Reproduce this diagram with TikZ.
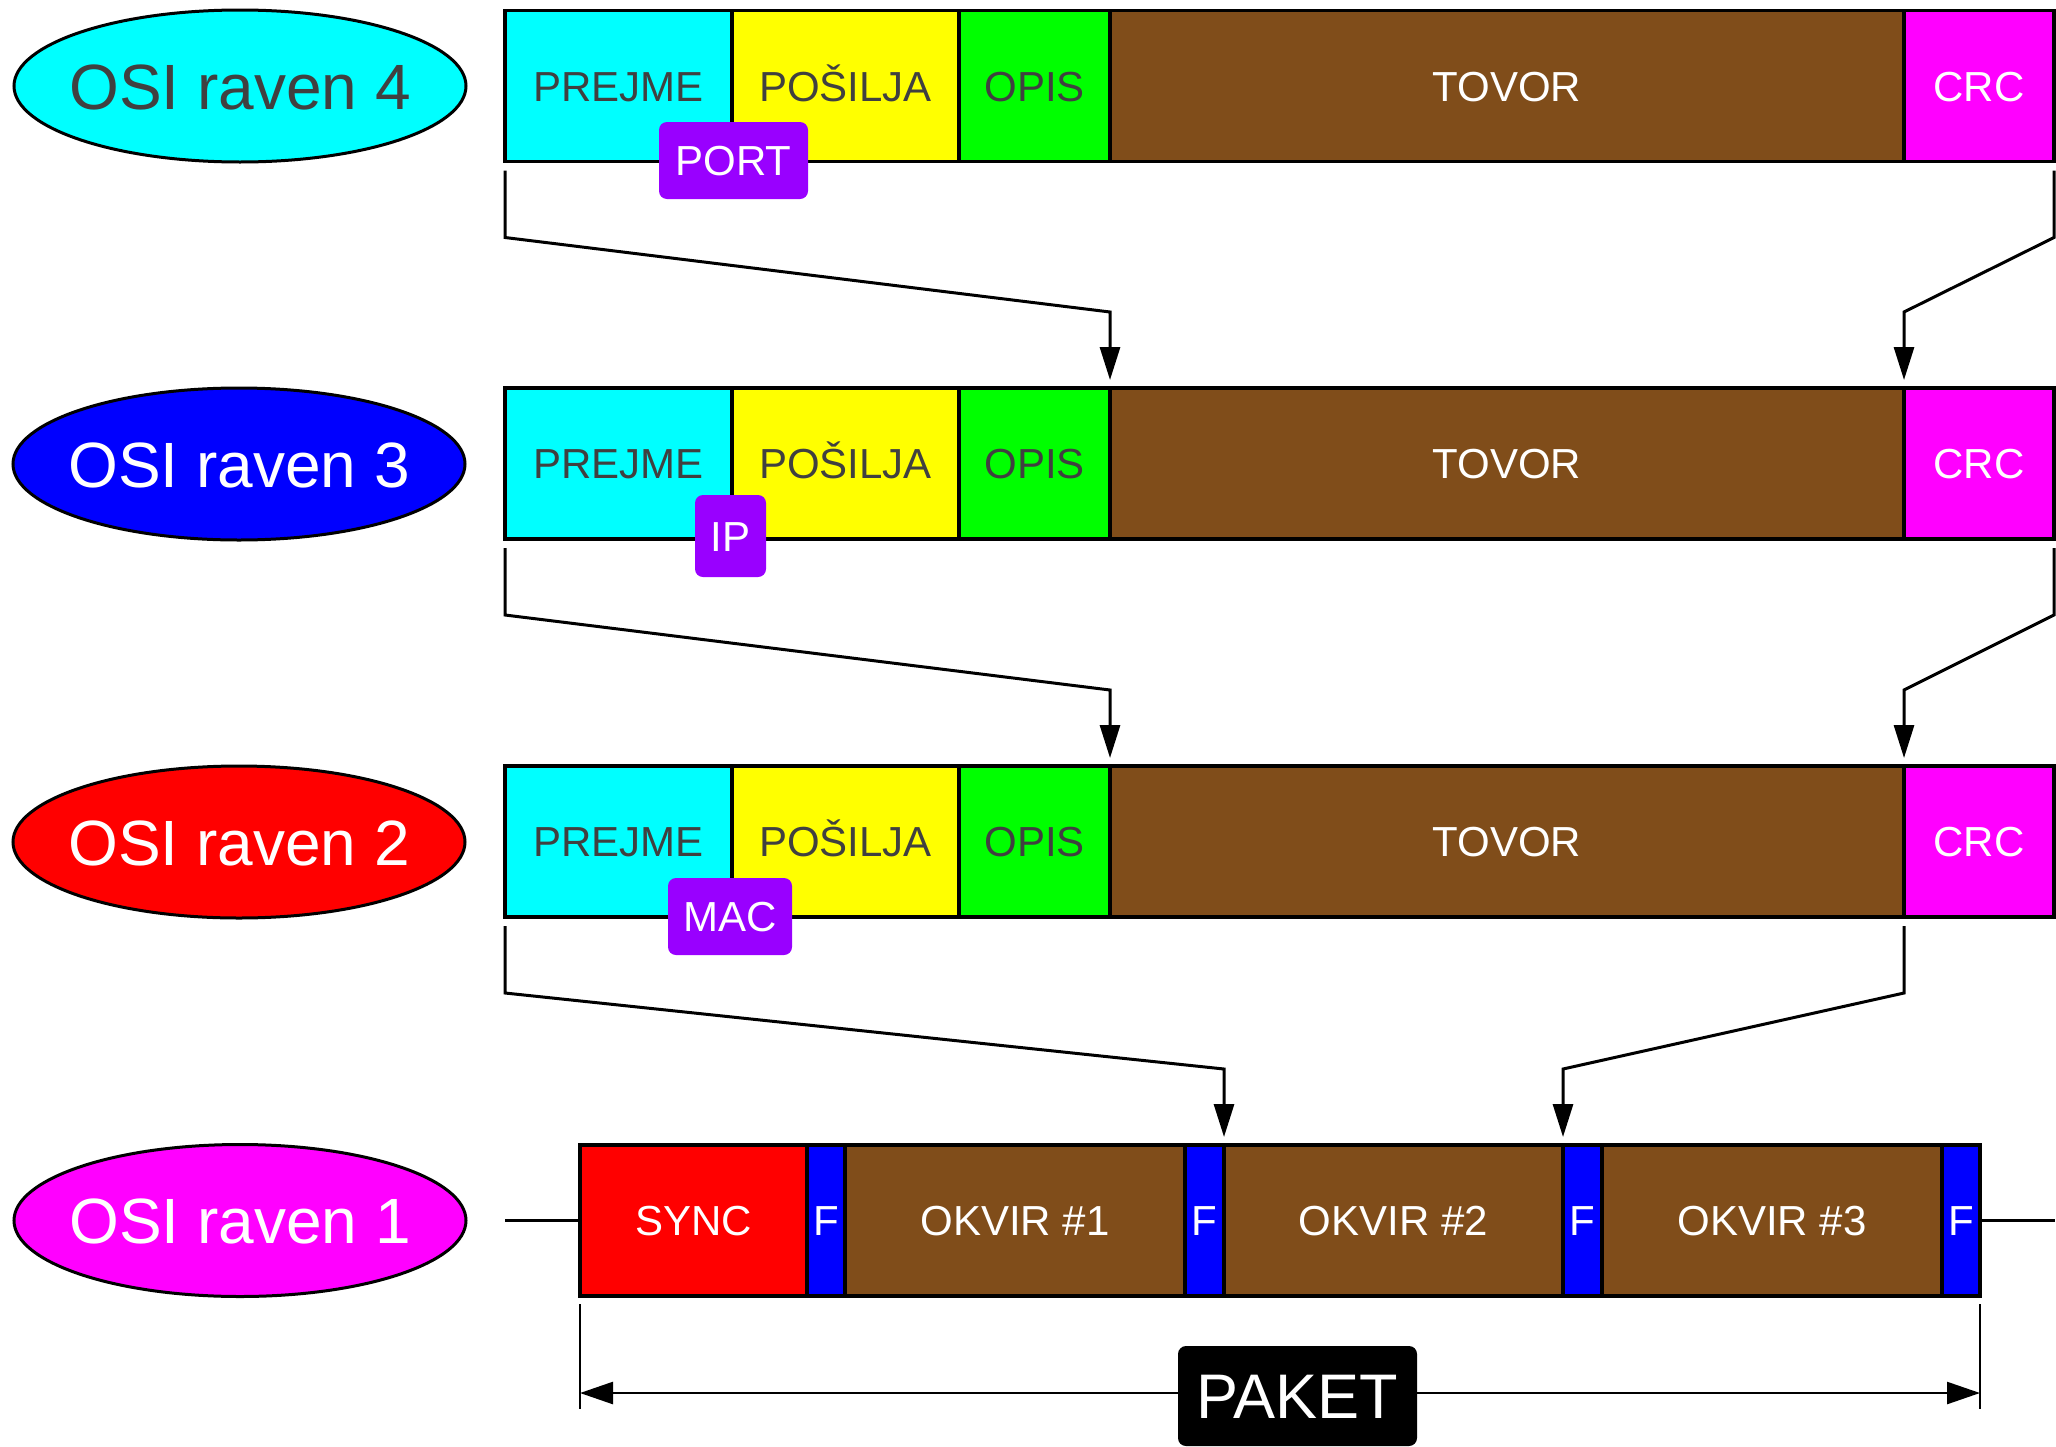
\documentclass[tikz,border=0pt]{standalone}
\usepackage{fontspec}
\setmainfont{Liberation Sans}
\usetikzlibrary{arrows.meta,shapes.geometric}
\definecolor{brn}{RGB}{128,77,26}
\definecolor{purp}{RGB}{153,0,255}
\definecolor{dgray}{RGB}{64,64,64}
\definecolor{cyanc}{RGB}{0,255,255}
\definecolor{yelc}{RGB}{255,255,0}
\definecolor{grnc}{RGB}{0,255,0}
\definecolor{magc}{RGB}{255,0,255}
\definecolor{redc}{RGB}{255,0,0}
\definecolor{bluc}{RGB}{0,0,255}
\begin{document}
\begin{tikzpicture}[x=1pt,y=-1pt,
  cell/.style={draw,line width=3.5pt,inner sep=0pt,outer sep=0pt,minimum height=151pt,text height=30pt,text depth=0pt,font=\fontsize{42}{42}\selectfont},
  lite/.style={cell,text=dgray},
  dark/.style={cell,text=white},
  tag/.style={fill=purp,text=white,rounded corners=8pt,inner sep=0pt,text height=30pt,text depth=0pt,font=\fontsize{42}{42}\selectfont},
  osi/.style={ellipse,draw,line width=3pt,inner sep=0pt,minimum width=452pt,minimum height=152pt,text height=46pt,text depth=0pt,font=\fontsize{64}{64}\selectfont},
  conn/.style={line width=3pt,-{Triangle[length=33pt,width=20pt]}},
  dimarrow/.style={line width=2.5pt,-{Triangle[length=33pt,width=22pt]}},
  dimtick/.style={line width=2.5pt},
  endline/.style={line width=3pt}]
\useasboundingbox (0,0) rectangle (2056,1446);

% OSI labels
\node[osi,fill=cyanc,text=dgray] (E4) at (240,86) {\makebox[0pt][c]{OSI raven 4}};
\node[osi,fill=bluc,text=white] (E3) at (239,464) {\makebox[0pt][c]{OSI raven 3}};
\node[osi,fill=redc,text=white] (E2) at (239,842) {\makebox[0pt][c]{OSI raven 2}};
\node[osi,fill=magc,text=white] (E1) at (240,1220.5) {\makebox[0pt][c]{OSI raven 1}};

% rows 1-3
\foreach \r/\yc in {1/86,2/463.5,3/841.5}{
  \node[lite,fill=cyanc,minimum width=227pt] (P\r) at (618.5,\yc) {PREJME};
  \node[lite,fill=yelc,minimum width=227pt] (S\r) at (845.5,\yc) {POŠILJA};
  \node[lite,fill=grnc,minimum width=151pt] (O\r) at (1034.5,\yc) {OPIS};
  \node[dark,fill=brn,minimum width=794pt] (T\r) at (1507,\yc) {TOVOR};
  \node[dark,fill=magc,minimum width=150pt] (C\r) at (1979,\yc) {CRC};
}

% tags
\node[tag,minimum width=149pt,minimum height=77pt] (PORT) at (733.5,160.5) {PORT};
\node[tag,minimum width=71pt,minimum height=82pt] (IP) at (730.5,536) {IP};
\node[tag,minimum width=124pt,minimum height=77pt] (MAC) at (730,916.5) {MAC};

% row 4
\node[dark,fill=redc,minimum width=227pt] (SY) at (693.5,1220.5) {SYNC};
\node[dark,fill=bluc,minimum width=38pt] (F1) at (826,1220.5) {F};
\node[dark,fill=brn,minimum width=340pt] (K1) at (1015,1220.5) {OKVIR \#1};
\node[dark,fill=bluc,minimum width=39pt] (F2) at (1204.5,1220.5) {F};
\node[dark,fill=brn,minimum width=339pt] (K2) at (1393.5,1220.5) {OKVIR \#2};
\node[dark,fill=bluc,minimum width=39pt] (F3) at (1582.5,1220.5) {F};
\node[dark,fill=brn,minimum width=340pt] (K3) at (1772,1220.5) {OKVIR \#3};
\node[dark,fill=bluc,minimum width=38pt] (F4) at (1961,1220.5) {F};

\coordinate (L4) at (505,1220.5);
\coordinate (R4) at (2055,1220.5);
\draw[endline] (L4) -- (SY.west);
\draw[endline] (F4.east) -- (R4);

% connectors 1->2 and 2->3
\foreach \a/\b in {1/2,2/3}{
  \draw[conn] ([yshift=-9pt]P\a.south west) -- ([yshift=-76pt]P\a.south west)
    -- ([yshift=76pt]T\b.north west) -- ([yshift=8pt]T\b.north west);
  \draw[conn] ([yshift=-9pt]C\a.south east) -- ([yshift=-76pt]C\a.south east)
    -- ([yshift=76pt]C\b.north west) -- ([yshift=8pt]C\b.north west);
}
% connectors 3->4
\draw[conn] ([yshift=-9pt]P3.south west) -- ([yshift=-76pt]P3.south west)
  -- ([yshift=76pt]K2.north west) -- ([yshift=8pt]K2.north west);
\draw[conn] ([yshift=-9pt]C3.south west) -- ([yshift=-76pt]C3.south west)
  -- ([yshift=76pt]F3.north west) -- ([yshift=8pt]F3.north west);

% dimension
\coordinate (DT1) at (580,1304);
\coordinate (DB1) at (580,1409);
\coordinate (DT2) at (1980,1304);
\coordinate (DB2) at (1980,1409);
\coordinate (DA) at (580,1393);
\coordinate (DB) at (1980,1393);
\draw[dimtick] (DT1) -- (DB1);
\draw[dimtick] (DT2) -- (DB2);
\node[fill=black,text=white,rounded corners=8pt,inner sep=0pt,minimum width=239pt,minimum height=100pt,text height=45pt,text depth=0pt,font=\fontsize{63}{63}\selectfont] (PK) at (1297.5,1396) {PAKET};
\draw[dimarrow] (PK.west |- DA) -- (DA);
\draw[dimarrow] (PK.east |- DB) -- (DB);
\end{tikzpicture}
\end{document}
